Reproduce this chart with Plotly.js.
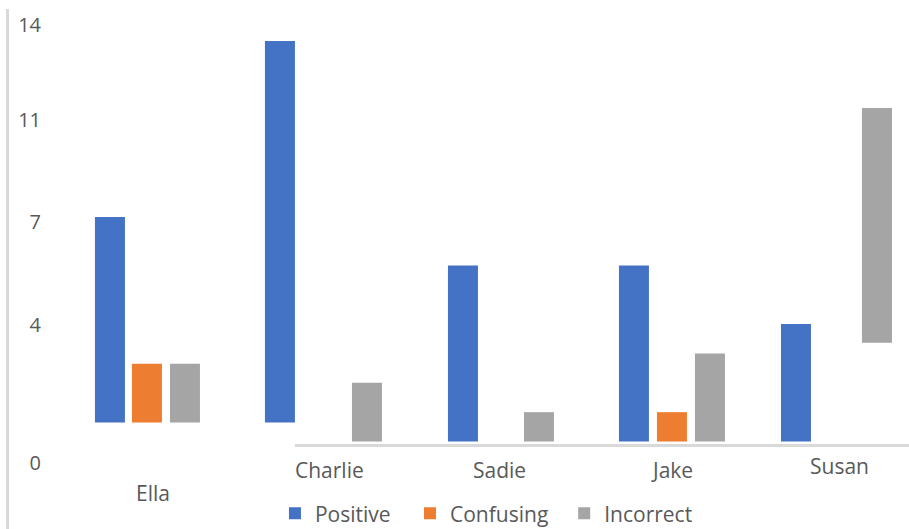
<!DOCTYPE html>
<html>
<head>
<meta charset="utf-8">
<script src="https://cdn.plot.ly/plotly-3.0.1.min.js"></script>
<style>html,body{margin:0;padding:0;background:#fff}#chart{width:909px;height:529px}</style>
</head>
<body>
<div id="chart"></div>
<script>
// ---- data ----
const categories = ["Ella", "Charlie", "Sadie", "Jake", "Susan"];
const positive   = [7, 13, 6, 6, 4];
const confusing  = [2, 0, 0, 1, 0];
const incorrect  = [2, 2, 1, 3, 8];
// floating bar bases as drawn in the reference
const positiveBase  = [0.647, 0.647, 0, 0, 0];
const confusingBase = [0.647, 0, 0, 0, 0];
const incorrectBase = [0.647, 0, 0, 0, 3.366];
const yTickLabels = ["0", "4", "7", "11", "14"];
const seriesNames = ["Positive", "Confusing", "Incorrect"];

// ---- layout config (positions, not data) ----
const yTickPos = [-0.73, 3.97, 7.48, 10.95, 14.19];
const barOffsets = [
  [-0.3241, -0.3386, -0.2777, -0.2864, -0.3472],
  [-0.1096, -0.0870, -0.0870, -0.0661, -0.0870],
  [ 0.1107,  0.1658,  0.1629,  0.1542,  0.1223]
];
const barWidth = 0.1739;
const labelPos = [[0.012, -1.75], [1.034, -0.97], [2.022, -0.97], [3.02, -0.97], [3.99, -0.818]];
const colors = ["#4472C4", "#ED7D31", "#A5A5A5"];
const font = "'Open Sans', 'Noto Sans', sans-serif";
const txt = "#595959";
const namePads = ["\u00a0\u00a0\u2009", "\u00a0\u00a0", ""];

const traces = [
  {name: seriesNames[0], y: positive, base: positiveBase},
  {name: seriesNames[1], y: confusing, base: confusingBase},
  {name: seriesNames[2], y: incorrect, base: incorrectBase}
].map((t, i) => ({
  type: "bar", x: categories, y: t.y, base: t.base, name: t.name + namePads[i],
  offset: barOffsets[i], width: barWidth,
  marker: {color: colors[i], line: {width: 0}}, hoverinfo: "skip"
}));

const annotations = categories.map((c, i) => ({
  x: labelPos[i][0], y: labelPos[i][1], xref: "x", yref: "y",
  text: c, showarrow: false, font: {family: font, size: 21, color: txt},
  xanchor: "center", yanchor: "middle"
}));

const layout = {
  width: 909, height: 529,
  margin: {l: 42, r: 0, t: 0, b: 0, autoexpand: false},
  paper_bgcolor: "#fff", plot_bgcolor: "#fff",
  barmode: "overlay",
  showlegend: true,
  legend: {orientation: "h", x: 0.2687, xanchor: "left", y: 0.029, yanchor: "middle",
           font: {family: font, size: 21, color: txt}, traceorder: "normal",
           itemwidth: 30, bgcolor: "rgba(0,0,0,0)"},
  xaxis: {type: "category", range: [-0.631, 4.395], showticklabels: false,
          showgrid: false, zeroline: false, showline: false, ticks: ""},
  yaxis: {range: [-2.981, 15.043], tickmode: "array", tickvals: yTickPos, ticktext: yTickLabels,
          showgrid: false, zeroline: false, showline: false, ticks: "",
          tickfont: {family: font, size: 20, color: txt}},
  shapes: [
    {type: "line", xref: "paper", yref: "y", x0: 0.2918, x1: 1, y0: -0.136, y1: -0.136,
     line: {color: "#D9D9D9", width: 3}, layer: "below"},
    {type: "line", xref: "paper", yref: "paper", x0: -0.0398, x1: -0.0398, y0: 0, y1: 0.983,
     line: {color: "#D9D9D9", width: 3}, layer: "below"}
  ],
  annotations: annotations
};

Plotly.newPlot("chart", traces, layout, {staticPlot: true, displayModeBar: false});
</script>
</body>
</html>
